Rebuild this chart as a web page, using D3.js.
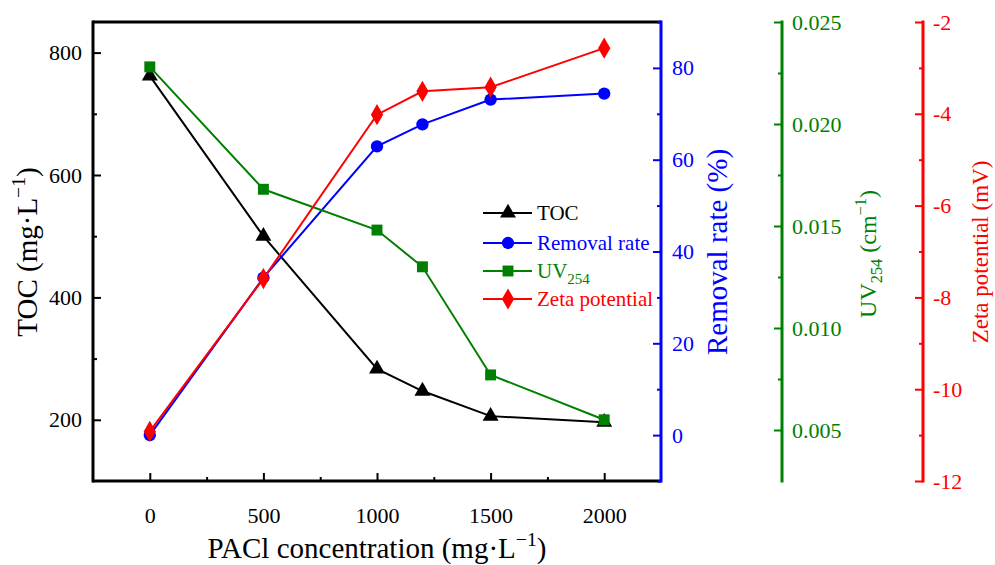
<!DOCTYPE html>
<html>
<head>
<meta charset="utf-8">
<script src="https://cdn.jsdelivr.net/npm/d3@7"></script>
<style>
  html, body { margin: 0; padding: 0; background: #fff; }
  svg { display: block; font-family: "Liberation Serif", "Times New Roman", serif; }
</style>
</head>
<body>
<svg id="chart" width="995" height="565"></svg>
<script>
// PACl dosage (mg/L)
const dosage = [0, 500, 1000, 1200, 1500, 2000];
// measured responses
const toc = [762, 500, 283, 247, 206, 196];
const removalRate = [0, 34.3, 62.9, 67.7, 73.1, 74.4];
const uv254 = [0.0228, 0.0168, 0.0148, 0.0130, 0.0077, 0.0055];
const zeta = [-10.92, -7.59, -4.02, -3.51, -3.42, -2.57];

// tick values
const xTicks = [0, 500, 1000, 1500, 2000];
const xMinor = [250, 750, 1250, 1750];
const tocTicks = [200, 400, 600, 800];
const tocMinor = [300, 500, 700];
const remTicks = [0, 20, 40, 60, 80];
const remMinor = [-10, 10, 30, 50, 70, 90];
const uvTicks = [0.005, 0.010, 0.015, 0.020, 0.025];
const uvMinor = [0.0075, 0.0125, 0.0175, 0.0225];
const zetaTicks = [-12, -10, -8, -6, -4, -2];
const zetaMinor = [-11, -9, -7, -5, -3];

const BLACK = "#000000", BLUE = "#0000ff", GREEN = "#008000", RED = "#ff0000";
const SERIF = "'Liberation Serif', 'Times New Roman', serif";

const svg = d3.select("#chart");
const plotLeft = 93, plotRight = 661, plotTop = 22, plotBottom = 481;
const greenX = 782, redX = 923;

const x = d3.scaleLinear().domain([-250, 2250]).range([plotLeft, plotRight]);
const yToc = d3.scaleLinear().domain([100, 850]).range([plotBottom, plotTop]);
const yRem = d3.scaleLinear().domain([-10, 90]).range([plotBottom, plotTop]);
const yUv = d3.scaleLinear().domain([0.0025, 0.025]).range([plotBottom, plotTop]);
const yZeta = d3.scaleLinear().domain([-12, -2]).range([plotBottom, plotTop]);

// axis helper: major ticks with labels, minor ticks unlabeled
function drawAxis(axisFn, scale, pos, major, minor, fmt, color, pad, fontSize) {
  const g = svg.append("g").attr("transform", pos);
  const maj = axisFn(scale).tickValues(major).tickSize(-8).tickSizeOuter(0)
    .tickPadding(pad).tickFormat(fmt);
  const mi = axisFn(scale).tickValues(minor).tickSize(-4).tickSizeOuter(0).tickFormat("");
  g.append("g").call(mi).call(s => s.select(".domain").remove());
  g.append("g").call(maj).call(s => s.select(".domain").remove());
  g.selectAll("g").attr("font-family", SERIF);
  g.selectAll("line").attr("stroke", color).attr("stroke-width", 2);
  g.selectAll("text").attr("fill", color).style("font-size", fontSize + "px")
    .style("font-family", SERIF);
  return g;
}

// frame and axis lines
function vline(xp, color) {
  svg.append("line").attr("x1", xp).attr("x2", xp)
    .attr("y1", plotTop - 1.5).attr("y2", plotBottom + 1.5)
    .attr("stroke", color).attr("stroke-width", 3);
}
function hline(yp) {
  svg.append("line").attr("x1", plotLeft).attr("x2", plotRight)
    .attr("y1", yp).attr("y2", yp).attr("stroke", BLACK).attr("stroke-width", 3);
}
hline(plotTop);
hline(plotBottom);
vline(plotLeft, BLACK);
vline(plotRight, BLUE);
vline(greenX, GREEN);
vline(redX, RED);

drawAxis(d3.axisBottom, x, `translate(0,${plotBottom})`, xTicks, xMinor, d3.format("d"), BLACK, 26, 22);
drawAxis(d3.axisLeft, yToc, `translate(${plotLeft},0)`, tocTicks, tocMinor, d3.format("d"), BLACK, 11, 22);
drawAxis(d3.axisRight, yRem, `translate(${plotRight},0)`, remTicks, remMinor, d3.format("d"), BLUE, 11, 22);
drawAxis(d3.axisRight, yUv, `translate(${greenX},0)`, uvTicks, uvMinor, d3.format(".3f"), GREEN, 10, 22);
drawAxis(d3.axisRight, yZeta, `translate(${redX},0)`, zetaTicks, zetaMinor, d => String(d), RED, 10, 22);

// axis titles
function title(tx, ty, rot, color, size, parts) {
  const t = svg.append("text")
    .attr("transform", `translate(${tx},${ty}) rotate(${rot})`)
    .attr("text-anchor", "middle").attr("fill", color)
    .style("font-size", size + "px").style("font-family", SERIF);
  parts.forEach(p => {
    const s = t.append("tspan").text(p.text);
    if (p.sup) s.attr("dy", -0.4 * size).style("font-size", (size * 0.68) + "px");
    if (p.sub) s.attr("dy", 0.25 * size).style("font-size", (size * 0.68) + "px");
    if (p.back) s.attr("dy", p.back * size);
  });
  return t;
}
title(377, 558, 0, BLACK, 29, [
  { text: "PACl concentration (mg·L" }, { text: "−1", sup: true }, { text: ")", back: 0.4 }]);
title(37, 252, -90, BLACK, 29, [
  { text: "TOC (mg·L" }, { text: "−1", sup: true }, { text: ")", back: 0.4 }]);
title(727, 252, -90, BLUE, 29, [{ text: "Removal rate (%)" }]);
title(876, 254, -90, GREEN, 24, [
  { text: "UV" }, { text: "254", sub: true }, { text: " (cm", back: -0.25 },
  { text: "−1", sup: true }, { text: ")", back: 0.4 }]);
title(988, 252, -90, RED, 23, [{ text: "Zeta potential (mV)" }]);

// series definitions
const series = [
  { name: "TOC", values: toc, y: yToc, color: BLACK, symbol: d3.symbolTriangle, size: 110 },
  { name: "Removal rate", values: removalRate, y: yRem, color: BLUE, symbol: d3.symbolCircle, size: 120 },
  { name: "UV", sub: "254", values: uv254, y: yUv, color: GREEN, symbol: d3.symbolSquare, size: 120 },
  { name: "Zeta potential", values: zeta, y: yZeta, color: RED, symbol: d3.symbolDiamond, size: 130 }
];

series.forEach(s => {
  const pts = dosage.map((d, i) => [x(d), s.y(s.values[i])]);
  svg.append("path").datum(pts)
    .attr("d", d3.line())
    .attr("fill", "none").attr("stroke", s.color).attr("stroke-width", 2);
  svg.append("g").selectAll("path").data(pts).join("path")
    .attr("transform", p => `translate(${p[0]},${p[1]})`)
    .attr("d", d3.symbol().type(s.symbol).size(s.size))
    .attr("fill", s.color);
});

// legend
const legendRows = [213, 243, 271, 299];
series.forEach((s, i) => {
  const ly = legendRows[i];
  const g = svg.append("g");
  g.append("line").attr("x1", 483).attr("x2", 532).attr("y1", ly).attr("y2", ly)
    .attr("stroke", s.color).attr("stroke-width", 2);
  g.append("path").attr("transform", `translate(508,${ly})`)
    .attr("d", d3.symbol().type(s.symbol).size(s.size)).attr("fill", s.color);
  const t = g.append("text").attr("x", 537).attr("y", ly + 7)
    .attr("fill", s.color).style("font-size", "21px").style("font-family", SERIF).text(s.name);
  if (s.sub) t.append("tspan").attr("dy", 6).style("font-size", "15px").text(s.sub);
});
</script>
</body>
</html>
